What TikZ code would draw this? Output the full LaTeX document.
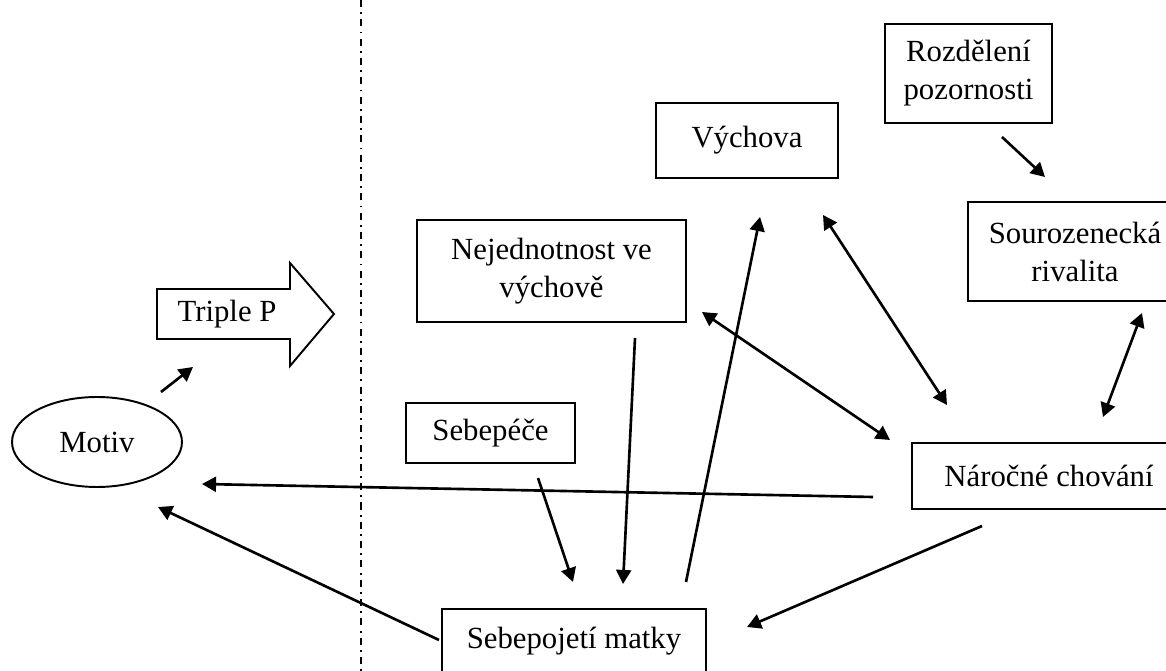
\documentclass[tikz,border=0pt]{standalone}
\usepackage{fontspec}
\setmainfont{Liberation Serif}
\usetikzlibrary{arrows.meta, shapes.geometric}

\begin{document}
\begin{tikzpicture}[x=0.02cm,y=-0.02cm,
  box/.style={draw,line width=1.1pt,align=center,inner sep=0pt,
    font=\fontsize{17.5}{21.6}\selectfont},
  arr/.style={line width=1.5pt,-{Triangle[length=8pt,width=8.5pt]}},
  dbl/.style={line width=1.5pt,
    {Triangle[length=8pt,width=8.5pt]}-{Triangle[length=8pt,width=8.5pt]}}]
\useasboundingbox (0,0) rectangle (1166,671);
\clip (0,0) rectangle (1166,671);
% Divider between the two halves
\draw[line width=1pt,dash pattern=on 4pt off 3pt on 1pt off 3pt] (361,0) -- (361,671);
% Left side: Motiv and the Triple P arrow
\node[box,ellipse,minimum width=3.4cm,minimum height=1.8cm] (motiv) at (97,442) {Motiv};
\draw[line width=1.1pt] (157,289) -- (290,289) -- (290,263) -- (334,314)
  -- (290,366) -- (290,339) -- (157,339) -- cycle;
\node[box,draw=none] (triple) at (227,314) {Triple P};
% Right side boxes
\node[box,minimum width=3.64cm,minimum height=1.5cm] (vych) at (747,140.5) {Výchova};
\node[box,minimum width=3.34cm,minimum height=1.98cm] (pozor) at (968.5,73.5) {Rozdělení\\pozornosti};
\node[box,minimum width=4.3cm,minimum height=1.98cm] (rival) at (1075,251.5) {Sourozenecká\\rivalita};
\node[box,minimum width=5.5cm,minimum height=1.32cm] (chov) at (1049,476) {Náročné chování};
\node[box,minimum width=5.38cm,minimum height=2.04cm] (nejed) at (551.5,271) {Nejednotnost ve\\výchově};
\node[box,minimum width=3.38cm,minimum height=1.2cm] (pece) at (490.5,433) {Sebepéče};
\node[box,anchor=north,minimum width=5.28cm,text height=0.8cm,text depth=0.8cm]
  (matka) at (574,608) {Sebepojetí matky};
% Free ends of the arrows
\coordinate (motiv1) at (161,392);  \coordinate (triple1) at (193,367);
\coordinate (chov1) at (873,497);   \coordinate (motiv2) at (202,484);
\coordinate (matka1) at (439,640);  \coordinate (motiv3) at (158,507);
\coordinate (pece1) at (538,478);   \coordinate (matka2) at (573,582);
\coordinate (nejed1) at (635,338);  \coordinate (matka3) at (623,584);
\coordinate (matka4) at (686,582);  \coordinate (vych1) at (760,217);
\coordinate (chov2) at (947,405);   \coordinate (vych2) at (823,215);
\coordinate (chov3) at (890,440);   \coordinate (nejed2) at (702,312);
\coordinate (pozor1) at (1002,137); \coordinate (rival1) at (1045,177);
\coordinate (chov4) at (1103,417);  \coordinate (rival2) at (1142,313);
\coordinate (chov5) at (982,526);   \coordinate (matka5) at (747,627);
% Arrows
\draw[arr] (motiv1) -- (triple1);
\draw[arr] (chov1) -- (motiv2);
\draw[arr] (matka1) -- (motiv3);
\draw[arr] (pece1) -- (matka2);
\draw[arr] (nejed1) -- (matka3);
\draw[arr] (matka4) -- (vych1);
\draw[dbl] (chov2) -- (vych2);
\draw[dbl] (chov3) -- (nejed2);
\draw[arr] (pozor1) -- (rival1);
\draw[dbl] (chov4) -- (rival2);
\draw[arr] (chov5) -- (matka5);
\end{tikzpicture}
\end{document}
